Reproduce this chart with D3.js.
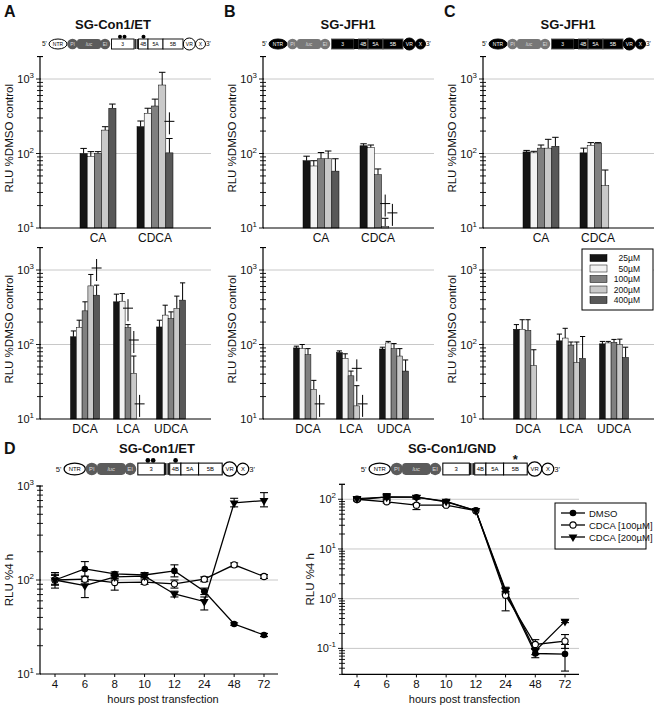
<!DOCTYPE html>
<html><head><meta charset="utf-8">
<script src="https://cdn.jsdelivr.net/npm/d3@7"></script>
<style>body{margin:0;background:#fff} svg{display:block} text{font-family:"Liberation Sans",Arial,sans-serif;fill:#111}</style>
</head><body><svg id="c" width="659" height="709"></svg>
<script>
// ---------- DATA ----------
const concs = ["25µM","50µM","100µM","200µM","400µM"];
const concColors = ["#151515","#f2f2f2","#808080","#c9c9c9","#585858"];

const topCats = ["CA","CDCA"];
const botCats = ["DCA","LCA","UDCA"];

// Panel A (SG-Con1/ET)
const aTopVals = [[100,91,100,206,405],[229,347,434,830,102]];
const aTopErr  = [[117,106,106,229,461],[273,405,537,1230,159]];
const aTopDag  = [[null,null,null,null,null],[null,null,null,null,254]];
const aBotVals = [[127,169,283,612,459],[374,381,169,41,null],[172,248,223,304,394]];
const aBotErr  = [[152,212,374,871,626],[474,483,185,70,null],[212,337,274,446,672]];
const aBotDag  = [[null,null,null,null,1000],[null,null,289,108,15],[null,null,null,null,null]];

// Panel B (SG-JFH1)
const bTopVals = [[80,68,85,85,58],[127,120,52,10.5,null]];
const bTopErr  = [[92,80,103,108,85],[135,130,62,13.5,null]];
const bTopDag  = [[null,null,null,null,null],[null,null,null,20,15]];
const bBotVals = [[90,88,73,25,null],[78,65,38,15,null],[87,105,88,70,44]];
const bBotErr  = [[95,100,88,33,null],[82,75,44,28,null],[92,110,103,88,62]];
const bBotDag  = [[null,null,null,null,15],[null,null,null,45,15],[null,null,null,null,null]];

// Panel C (SG-JFH1)
const cTopVals = [[105,102,118,118,125],[102,128,137,37,null]];
const cTopErr  = [[110,107,130,155,165],[118,140,140,60,null]];
const cBotVals = [[160,160,155,52,null],[112,122,98,57,65],[102,105,107,100,67]];
const cBotErr  = [[185,215,215,85,null],[138,165,108,108,128],[110,110,117,118,92]];

// Panel D time courses
const hours = ["4","6","8","10","12","24","48","72"];
const seriesNames = ["DMSO","CDCA [100µM]","CDCA [200µM]"];
const etVals = [[100,131,116,113,125,76,34,26],[100,102,94,95,91,102,145,109],[100,87,108,110,71,59,660,700]];
const etHi   = [[120,157,122,120,145,82,35,27],[115,108,100,100,100,108,152,114],[112,100,112,115,76,66,740,850]];
const etLo   = [[82,110,110,106,108,70,33,25],[88,96,78,90,82,96,138,104],[90,65,104,105,66,48,600,600]];
const gndVals = [[97,112,110,89,59,1.38,0.079,0.077],[100,89,76,76,59,1.17,0.12,0.14],[103,110,110,91,59,1.5,0.089,0.35]];
const gndHi   = [[105,125,118,95,61,1.6,0.095,0.12],[105,95,82,80,61,1.4,0.15,0.19],[108,130,118,96,61,1.7,0.1,0.37]];
const gndLo   = [[92,105,102,84,57,1.2,0.065,0.035],[95,84,62,72,57,0.57,0.1,0.1],[98,100,102,86,57,1.3,0.075,0.33]];

// ---------- DRAWING ----------
const svg = d3.select("#c");

function powLabel(sel, n, fs) {
  sel.append("tspan").text("10").attr("font-size", fs);
  sel.append("tspan").text(String(n)).attr("font-size", fs*0.72).attr("dy", -fs*0.45);
}

function logAxis(g, y, x, majorLabels, fs) {
  const [b, t] = y.range();
  g.append("line").attr("x1", x).attr("x2", x).attr("y1", b).attr("y2", t).attr("stroke","#000").attr("stroke-width",1.2);
  g.append("line").attr("x1", x-3).attr("x2", x+3).attr("y1", t).attr("y2", t).attr("stroke","#000").attr("stroke-width",1);
  y.ticks().forEach(v => {
    const lg = Math.log10(v);
    const major = Math.abs(lg - Math.round(lg)) < 1e-9;
    g.append("line").attr("x1", x-(major?4:3)).attr("x2", x+(major?1:3)).attr("y1", y(v)).attr("y2", y(v))
      .attr("stroke","#000").attr("stroke-width",0.9);
    if (major && majorLabels) {
      const tx = g.append("text").attr("x", x-6).attr("y", y(v)+4).attr("text-anchor","end");
      powLabel(tx, Math.round(lg), fs);
    }
  });
}

function yLabel(x, cy, txt, fs) {
  svg.append("text").attr("transform", `translate(${x},${cy}) rotate(-90)`).attr("text-anchor","middle")
    .attr("font-size", fs).text(txt);
}

function dagger(g, cx, cy) {
  g.append("line").attr("x1",cx).attr("x2",cx).attr("y1",cy-11).attr("y2",cy+11).attr("stroke","#000").attr("stroke-width",1);
  g.append("line").attr("x1",cx-5).attr("x2",cx+5).attr("y1",cy-2).attr("y2",cy-2).attr("stroke","#000").attr("stroke-width",1);
}

function barPanel(o) {
  const g = svg.append("g");
  const y = d3.scaleLog().domain([10,2000]).range([o.yBot, o.yBot - Math.log10(200)*74.5]);
  const x = d3.scalePoint().domain(o.cats).range([o.x0 + o.c0, o.x0 + o.c1]);
  const inner = d3.scaleBand().domain(concs).range([-o.gw/2, o.gw/2]);
  [100,1000].forEach(v => g.append("line").attr("x1", o.x0).attr("x2", o.x1).attr("y1", y(v)).attr("y2", y(v))
      .attr("stroke","#c8c8c8").attr("stroke-width",1));
  o.cats.forEach((c, i) => {
    concs.forEach((k, j) => {
      const v = o.vals[i][j], e = o.errs[i][j];
      const bx = x(c) + inner(k), bw = inner.bandwidth(), cx = bx + bw/2;
      if (v != null) {
        if (e != null) {
          g.append("line").attr("x1",cx).attr("x2",cx).attr("y1",y(v)).attr("y2",y(e)).attr("stroke","#000").attr("stroke-width",1);
          g.append("line").attr("x1",cx-bw*0.45).attr("x2",cx+bw*0.45).attr("y1",y(e)).attr("y2",y(e)).attr("stroke","#000").attr("stroke-width",1);
        }
        g.append("rect").attr("x",bx).attr("width",bw).attr("y",y(v)).attr("height",Math.max(0,y(10)-y(v)))
          .attr("fill",concColors[j]).attr("stroke","#000").attr("stroke-width",0.5);
      }
      if (o.dags && o.dags[i][j] != null) dagger(g, cx, y(o.dags[i][j]));
    });
    g.append("text").attr("x", x(c)).attr("y", o.yBot + 14).attr("text-anchor","middle").attr("font-size",12).text(c);
  });
  logAxis(g, y, o.x0, true, 11);
  g.append("line").attr("x1",o.x0).attr("x2",o.x1).attr("y1",o.yBot).attr("y2",o.yBot).attr("stroke","#000").attr("stroke-width",1.2);
  yLabel(o.x0 - 27, (o.yBot + y.range()[1])/2 - 4, "RLU %DMSO control", 11.5);
}

// constructs
function construct(x0, cy, s, kind, marks) {
  const g = svg.append("g").attr("transform", `translate(${x0},${cy}) scale(${s})`);
  const jfh = kind === "jfh";
  const h = 10;
  const dark = jfh ? "#777" : "#5b5b5b";
  const boxFill = jfh ? "#000" : "#fff";
  const boxText = jfh ? "#fff" : "#000";
  const fs = 5;
  const T = (x, t, col, it) => g.append("text").attr("x", x).attr("y", 1.8).attr("text-anchor","middle").attr("font-size",fs)
      .style("fill", col).attr("font-style", it ? "italic" : null).text(t);
  g.append("text").attr("x",-1).attr("y",2.2).attr("font-size",6.5).attr("text-anchor","start").text("5'");
  g.append("ellipse").attr("cx",15).attr("cy",0).attr("rx",9).attr("ry",5).attr("fill",jfh?"#000":"#fff").attr("stroke","#000").attr("stroke-width",1);
  T(15,"NTR", jfh?"#fff":"#000");
  g.append("circle").attr("cx",29.5).attr("cy",0).attr("r",5.3).attr("fill",dark);
  T(29.5,"PI","#ddd");
  g.append("rect").attr("x",34).attr("y",-5).attr("width",24).attr("height",h).attr("rx",3).attr("fill",dark);
  T(46,"luc","#ddd",true);
  g.append("circle").attr("cx",62).attr("cy",0).attr("r",5.2).attr("fill",dark);
  T(62,"EI","#ddd");
  const boxes = [[68.5,91,"3"],[95.5,105,"4B"],[105,120,"5A"],[120,140,"5B"]];
  boxes.forEach(b => {
    g.append("rect").attr("x",b[0]).attr("y",-5).attr("width",b[1]-b[0]).attr("height",h).attr("fill",boxFill)
      .attr("stroke", jfh ? "#555" : "#000").attr("stroke-width",0.9);
    T((b[0]+b[1])/2, b[2], boxText);
  });
  [92.2,94.2].forEach(xx => g.append("rect").attr("x",xx-0.6).attr("y",-5).attr("width",1.2).attr("height",h).attr("fill","#000"));
  if (jfh) g.append("rect").attr("x",91).attr("y",-5).attr("width",4.5).attr("height",h).attr("fill","#000");
  g.append("circle").attr("cx",146.3).attr("cy",0).attr("r",6).attr("fill",jfh?"#000":"#fff").attr("stroke","#000").attr("stroke-width",1);
  T(146.3,"VR", boxText);
  g.append("circle").attr("cx",157.5).attr("cy",0).attr("r",5).attr("fill",jfh?"#000":"#fff").attr("stroke","#000").attr("stroke-width",1);
  T(157.5,"X", boxText);
  g.append("text").attr("x",163).attr("y",2.2).attr("font-size",6.5).text("3'");
  if (marks === "dots") {
    [77, 81.5, 100.5].forEach(xx => g.append("circle").attr("cx",xx).attr("cy",-7.3).attr("r",2).attr("fill","#000"));
  } else if (marks === "star") {
    g.append("text").attr("x",130).attr("y",-4.5).attr("text-anchor","middle").attr("font-size",11).attr("font-weight","bold").text("*");
  }
}

function title(x, y, t) {
  svg.append("text").attr("x",x).attr("y",y).attr("text-anchor","middle").attr("font-size",13).attr("font-weight","bold").text(t);
}
function letter(x, y, t) {
  svg.append("text").attr("x",x).attr("y",y).attr("font-size",16).attr("font-weight","bold").text(t);
}

letter(4,17,"A"); letter(224,17,"B"); letter(444,17,"C"); letter(4,454,"D");
title(113,29,"SG-Con1/ET"); title(348,29,"SG-JFH1"); title(568,29,"SG-JFH1");
construct(43,44,1,"con","dots");
construct(263,44,1,"jfh");
construct(483,44,1,"jfh");

const panels = [
  {x0:40, vT:aTopVals, eT:aTopErr, dT:aTopDag, vB:aBotVals, eB:aBotErr, dB:aBotDag},
  {x0:263, vT:bTopVals, eT:bTopErr, dT:bTopDag, vB:bBotVals, eB:bBotErr, dB:bBotDag},
  {x0:483, vT:cTopVals, eT:cTopErr, dT:null, vB:cBotVals, eB:cBotErr, dB:null}
];
panels.forEach(p => {
  barPanel({x0:p.x0, x1:p.x0+171, yBot:228, cats:topCats, c0:58, c1:115, gw:36, vals:p.vT, errs:p.eT, dags:p.dT});
  barPanel({x0:p.x0, x1:p.x0+171, yBot:419, cats:botCats, c0:45, c1:131, gw:29, vals:p.vB, errs:p.eB, dags:p.dB});
});

// legend for concentrations
(function(){
  const g = svg.append("g");
  g.append("rect").attr("x",582).attr("y",249).attr("width",71).attr("height",61).attr("fill","#fff").attr("stroke","#000").attr("stroke-width",1);
  concs.forEach((c,i) => {
    const yy = 258 + i*10.5;
    g.append("rect").attr("x",590).attr("y",yy-3.5).attr("width",17).attr("height",7).attr("fill",concColors[i]).attr("stroke","#000").attr("stroke-width",0.5);
    g.append("text").attr("x",640).attr("y",yy+3).attr("text-anchor","end").attr("font-size",8.5).text(c);
  });
})();

// Panel D
title(157,453,"SG-Con1/ET"); title(452,453,"SG-Con1/GND");
construct(57,469,1.18,"con","dots");
construct(362,469,1.18,"con","star");

function linePanel(o) {
  const g = svg.append("g");
  const y = d3.scaleLog().domain(o.dom).range([o.yBot, o.yTop]);
  const x = d3.scalePoint().domain(hours).range([o.x0 + 15, o.x1 - 14]);
  o.grid.forEach(v => g.append("line").attr("x1",o.x0).attr("x2",o.x1).attr("y1",y(v)).attr("y2",y(v)).attr("stroke","#c8c8c8").attr("stroke-width",1));
  const line = d3.line().x((d,i) => x(hours[i])).y(d => y(d));
  o.vals.forEach((s, si) => {
    g.append("path").attr("d", line(s)).attr("fill","none").attr("stroke","#000").attr("stroke-width",1.3);
  });
  o.vals.forEach((s, si) => {
    s.forEach((v, i) => {
      const hi = o.hi[si][i], lo = o.lo[si][i], cx = x(hours[i]);
      if (hi != null && lo != null && y(lo) - y(hi) > 2) {
        g.append("line").attr("x1",cx).attr("x2",cx).attr("y1",y(lo)).attr("y2",y(hi)).attr("stroke","#000").attr("stroke-width",1.1);
        [hi,lo].forEach(e => g.append("line").attr("x1",cx-4).attr("x2",cx+4).attr("y1",y(e)).attr("y2",y(e)).attr("stroke","#000").attr("stroke-width",1.1));
      }
    });
  });
  o.vals.forEach((s, si) => {
    s.forEach((v, i) => marker(g, si, x(hours[i]), y(v)));
  });
  logAxis(g, y, o.x0, true, 11);
  g.append("line").attr("x1",o.x0).attr("x2",o.x1).attr("y1",o.yBot).attr("y2",o.yBot).attr("stroke","#000").attr("stroke-width",1.2);
  hours.forEach(h => {
    g.append("line").attr("x1",x(h)).attr("x2",x(h)).attr("y1",o.yBot).attr("y2",o.yBot+3).attr("stroke","#000");
    g.append("text").attr("x",x(h)).attr("y",o.yBot+14).attr("text-anchor","middle").attr("font-size",11.5).text(h);
  });
  g.append("text").attr("x",(o.x0+o.x1)/2+4).attr("y",o.yBot+29).attr("text-anchor","middle").attr("font-size",11).text("hours post transfection");
  yLabel(o.ylx, (o.yBot+o.yTop)/2, "RLU %4 h", 11.5);
}

function marker(g, si, cx, cy) {
  if (si === 0) g.append("circle").attr("cx",cx).attr("cy",cy).attr("r",3.3).attr("fill","#000");
  else if (si === 1) g.append("circle").attr("cx",cx).attr("cy",cy).attr("r",3.1).attr("fill","#fff").attr("stroke","#000").attr("stroke-width",1.1);
  else g.append("path").attr("d", d3.symbol(d3.symbolTriangle, 34)()).attr("transform",`translate(${cx},${cy}) rotate(180)`).attr("fill","#000");
}

linePanel({x0:40, x1:278, yTop:486, yBot:674, dom:[10,1000], grid:[100], vals:etVals, hi:etHi, lo:etLo, ylx:13});
linePanel({x0:342, x1:579, yTop:484.3, yBot:674.4, dom:[0.03,200], grid:[100,10,1,0.1], vals:gndVals, hi:gndHi, lo:gndLo, ylx:314});

// legend D
(function(){
  const g = svg.append("g");
  g.append("rect").attr("x",555).attr("y",503).attr("width",91).attr("height",46).attr("fill","#fff").attr("stroke","#000").attr("stroke-width",1);
  seriesNames.forEach((n,i) => {
    const yy = 513 + i*12;
    g.append("line").attr("x1",561).attr("x2",585).attr("y1",yy).attr("y2",yy).attr("stroke","#000").attr("stroke-width",1.3);
    marker(g, i, 573, yy);
    g.append("text").attr("x",589).attr("y",yy+3.5).attr("font-size",9.5).text(n);
  });
})();
</script></body></html>
